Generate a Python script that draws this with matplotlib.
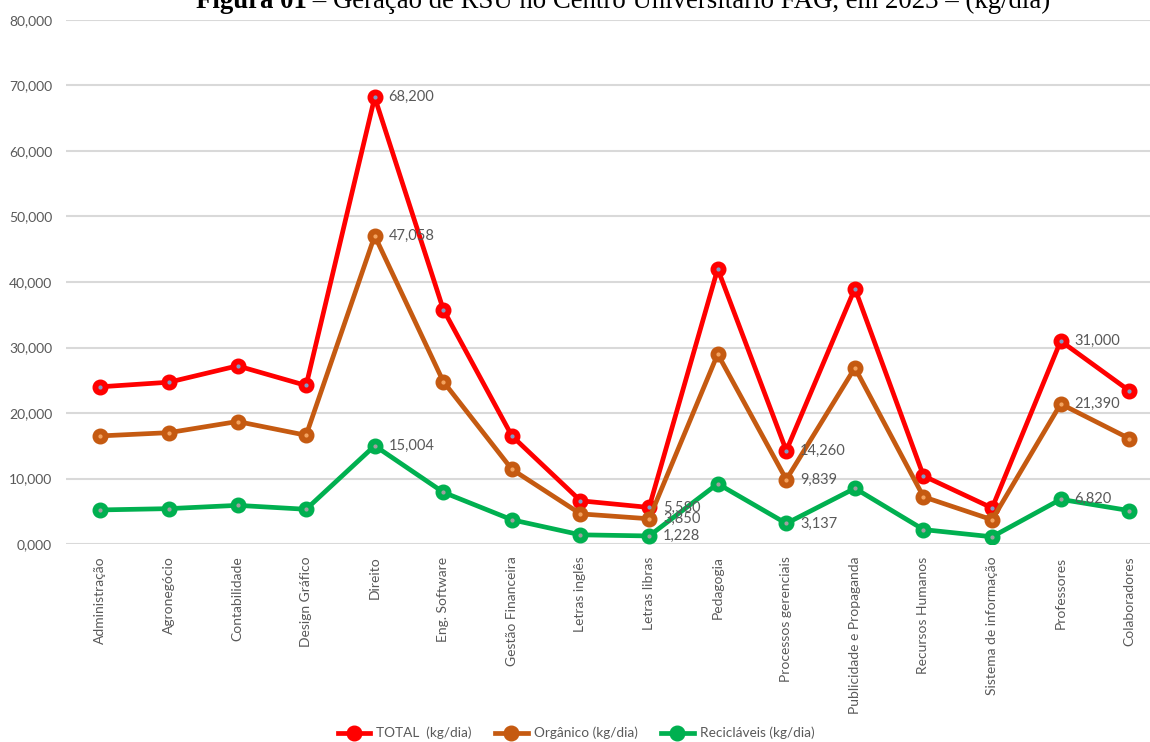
import matplotlib
matplotlib.use("Agg")
import matplotlib.pyplot as plt
from matplotlib.lines import Line2D

categories = ["Administração", "Agronegócio", "Contabilidade", "Design Gráfico", "Direito",
              "Eng. Software", "Gestão Financeira", "Letras inglês", "Letras libras", "Pedagogia",
              "Processos gerenciais", "Publicidade e Propaganda", "Recursos Humanos",
              "Sistema de informação", "Professores", "Colaboradores"]
total = [24.0, 24.7, 27.2, 24.2, 68.2, 35.8, 16.5, 6.6, 5.58, 42.0, 14.26, 39.0, 10.4, 5.5, 31.0, 23.4]
organico = [16.5, 17.0, 18.7, 16.6, 47.058, 24.8, 11.4, 4.6, 3.85, 29.0, 9.839, 26.9, 7.2, 3.7, 21.39, 16.1]
reciclaveis = [5.2, 5.4, 5.9, 5.3, 15.004, 7.9, 3.7, 1.4, 1.228, 9.2, 3.137, 8.5, 2.2, 1.1, 6.82, 5.1]
labeled_idx = [4, 8, 10, 14]
yticks = [0, 10, 20, 30, 40, 50, 60, 70, 80]

series = [
    ("TOTAL  (kg/dia)", total, "#FF0000", "#7F9CC8"),
    ("Orgânico (kg/dia)", organico, "#C55A11", "#F4A460"),
    ("Recicláveis (kg/dia)", reciclaveis, "#00B050", "#A0A0A0"),
]

W, H = 1150, 742
fig = plt.figure(figsize=(W / 100, H / 100), dpi=100)
ax = fig.add_axes([66 / W, 1 - 544 / H, 1 - 66 / W, (544 - 20) / H])

def fmt(v):
    return f"{v:.3f}".replace(".", ",")

x = list(range(len(categories)))
for name, vals, col, dot in series:
    ax.plot(x, vals, color=col, lw=3.4, marker="o", ms=10.5, mfc=col, mec=col,
            solid_capstyle="round", zorder=3)
    ax.plot(x, vals, ls="none", marker="o", ms=2, mfc=dot, mec=dot, zorder=4)
    for i in labeled_idx:
        ax.annotate(fmt(vals[i]), (i, vals[i]), xytext=(10, 0), textcoords="offset points",
                    va="center", ha="left", fontsize=10.5, color="#595959",
                    family="Lato", zorder=5)

ax.set_xlim(-0.5, -0.5 + (W - 66) / 68.6)
ax.set_ylim(0, 80)
ax.set_yticks(yticks)
ax.set_yticklabels([fmt(v) for v in yticks], family="Lato", fontsize=10, color="#595959")
ax.set_xticks(x)
ax.set_xticklabels(categories, rotation=90, family="Lato", fontsize=10, color="#595959",
                   va="top", ha="center")
ax.tick_params(axis="both", length=0)
ax.tick_params(axis="y", pad=10)
ax.tick_params(axis="x", pad=9)
ax.grid(axis="y", color="#D9D9D9", lw=1.5)
ax.set_axisbelow(True)
for s in ax.spines.values():
    s.set_visible(False)

handles = [Line2D([0], [0], color=col, lw=3.4, marker="o", ms=10.5, mfc=col, mec=col)
           for _, _, col, _ in series]
leg = fig.legend(handles, [s[0] for s in series], loc="center", bbox_to_anchor=(576 / W, 1 - 733 / H),
                 ncol=3, frameon=False, prop={"family": "Lato", "size": 9.8},
                 handlelength=2.4, columnspacing=1.7, handletextpad=0.45)
for t in leg.get_texts():
    t.set_color("#595959")

# Title (partially cut off at top, as in the reference)
fig.canvas.draw()
r = fig.canvas.get_renderer()
ty = 1 - 8 / H
tsize = 19.3
t1 = fig.text(0, ty, "Figura 01", family="Liberation Serif", fontweight="bold", fontsize=tsize,
              va="baseline", ha="left")
t2 = fig.text(0, ty, " – Geração de RSU no Centro Universitário FAG, em 2023 – (kg/dia)",
              family="Liberation Serif", fontsize=tsize, va="baseline", ha="left")
w1 = t1.get_window_extent(r).width
w2 = t2.get_window_extent(r).width
x0 = 623 - (w1 + w2) / 2
t1.set_x(x0 / W)
t2.set_x((x0 + w1) / W)

fig.savefig("out.png", dpi=100)
